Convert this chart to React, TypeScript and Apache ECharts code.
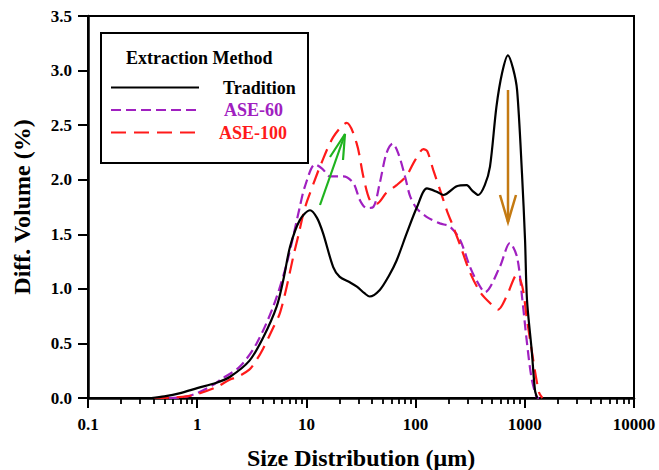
import React, { useEffect, useRef } from "react";
import * as echarts from "echarts";

const traditionX = [0.38, 0.5, 0.7, 1, 1.5, 2, 3, 4, 5.35, 6.2, 7.1, 8.7, 10.8, 12.5, 14.2, 17.6, 20.2, 25, 29, 34, 38, 47, 57, 67, 83, 103, 127, 156, 180, 238, 294, 330, 375, 430, 480, 550, 620, 700, 780, 850, 942, 1005, 1047, 1156, 1240, 1300];
const traditionY = [0, 0.015, 0.045, 0.09, 0.14, 0.195, 0.34, 0.55, 0.84, 1.1, 1.39, 1.63, 1.72, 1.65, 1.51, 1.2, 1.11, 1.06, 1.02, 0.96, 0.93, 0.99, 1.12, 1.26, 1.51, 1.75, 1.92, 1.89, 1.86, 1.94, 1.95, 1.9, 1.86, 1.95, 2.12, 2.67, 2.98, 3.14, 3.02, 2.82, 2.06, 1.45, 0.9, 0.44, 0.07, 0];

const ase60X = [0.55, 0.7, 0.85, 1, 1.4, 1.62, 2.47, 3.5, 4.98, 6.6, 8.7, 9.7, 12, 14, 16.5, 21.8, 26.9, 31, 35.6, 41, 47, 54, 61.6, 69.5, 80, 89, 102, 126, 167, 206, 255, 315, 360, 432, 590, 730, 850, 950, 1040, 1150, 1280, 1350];
const ase60Y = [0, 0.005, 0.02, 0.045, 0.12, 0.165, 0.29, 0.5, 0.84, 1.23, 1.75, 1.94, 2.14, 2.1, 2.03, 2.03, 1.97, 1.81, 1.74, 1.75, 1.97, 2.24, 2.33, 2.24, 2.03, 1.85, 1.74, 1.66, 1.6, 1.57, 1.45, 1.2, 1.08, 0.97, 1.2, 1.42, 1.29, 0.9, 0.53, 0.19, 0.01, 0];

const ase100X = [0.4, 0.6, 0.8, 1, 1.5, 2, 2.3, 3, 3.5, 4, 5, 5.73, 6.6, 7.6, 8.4, 9.38, 10.2, 12.5, 13.3, 17.6, 23.4, 28.9, 33.2, 38.2, 44, 54, 67, 83, 99, 118, 128, 145, 167, 193, 221, 260, 315, 390, 480, 570, 680, 850, 950, 1040, 1180, 1350, 1450];
const ase100Y = [0, 0.005, 0.015, 0.035, 0.1, 0.17, 0.19, 0.26, 0.35, 0.45, 0.65, 0.78, 1.02, 1.3, 1.48, 1.69, 1.81, 2.05, 2.12, 2.39, 2.52, 2.33, 2.03, 1.81, 1.78, 1.88, 1.95, 2.04, 2.18, 2.28, 2.26, 2.09, 1.91, 1.72, 1.57, 1.38, 1.15, 0.97, 0.87, 0.81, 0.93, 1.13, 1.02, 0.74, 0.38, 0.05, 0];

const seriesNames = ["Tradition", "ASE-60", "ASE-100"];
const xMajorTicks = [0.1, 1, 10, 100, 1000, 10000];
const xTickLabels = ["0.1", "1", "10", "100", "1000", "10000"];
const xMinorMultipliers = [2, 3, 4, 5, 6, 7, 8, 9];
const yTicks = [0, 0.5, 1, 1.5, 2, 2.5, 3, 3.5];

const FONT = '"Liberation Serif", "Times New Roman", serif';

function pairs(xs: number[], ys: number[]) {
  return xs.map((x, i) => [x, ys[i]]);
}

export default function App() {
  const ref = useRef<HTMLDivElement>(null);
  useEffect(() => {
    const chart = echarts.init(ref.current!, null, { renderer: "svg" });
    const minorTicks: number[] = [];
    for (let d = 0; d < xMajorTicks.length - 1; d++) {
      for (const m of xMinorMultipliers) minorTicks.push(+(xMajorTicks[d] * m).toPrecision(3));
    }
    const colors = ["#000000", "#a020c0", "#ff1a1a"];
    const option: any = {
      animation: false,
      textStyle: { fontFamily: FONT },
      grid: {
        left: 88,
        right: 25,
        top: 16,
        bottom: 72,
        outerBoundsMode: "none",
        containLabel: false,
        show: true,
        borderColor: "#000",
        borderWidth: 2,
        backgroundColor: "transparent",
      },
      xAxis: [
        {
          type: "log",
          logBase: 10,
          min: 0.1,
          max: 10000,
          position: "bottom",
          name: "Size Distribution (\u03bcm)",
          nameLocation: "middle",
          nameGap: 48,
          nameTextStyle: { fontFamily: FONT, fontWeight: "bold", fontSize: 24, color: "#000" },
          axisLine: { show: true, lineStyle: { color: "#000", width: 2.5 } },
          axisTick: { show: true, length: 10, inside: false, customValues: xMajorTicks, lineStyle: { color: "#000", width: 2 } },
          axisLabel: {
            show: true,
            customValues: xMajorTicks,
            margin: 18,
            fontFamily: FONT,
            fontWeight: "bold",
            fontSize: 17,
            color: "#000",
            formatter: (v: number) => {
              const i = xMajorTicks.findIndex((t) => Math.abs(Math.log10(t) - Math.log10(v)) < 1e-6);
              return i >= 0 ? xTickLabels[i] : "";
            },
          },
          splitLine: { show: false },
          minorTick: { show: false },
        },
        {
          type: "log",
          logBase: 10,
          min: 0.1,
          max: 10000,
          position: "bottom",
          axisLine: { show: false },
          axisTick: { show: true, length: 6, inside: false, customValues: minorTicks, lineStyle: { color: "#000", width: 1.8 } },
          axisLabel: { show: false },
          splitLine: { show: false },
        },
      ],
      yAxis: {
        type: "value",
        min: 0,
        max: 3.5,
        interval: 0.5,
        name: "Diff. Volume (%)",
        nameLocation: "middle",
        nameGap: 54,
        nameTextStyle: { fontFamily: FONT, fontWeight: "bold", fontSize: 24, color: "#000" },
        axisLine: { show: true, lineStyle: { color: "#000", width: 2.5 } },
        axisTick: { show: true, length: 10, inside: false, lineStyle: { color: "#000", width: 2 } },
        axisLabel: {
          margin: 16,
          fontFamily: FONT,
          fontWeight: "bold",
          fontSize: 17,
          color: "#000",
          formatter: (v: number) => (yTicks.includes(v) ? v.toFixed(1) : ""),
        },
        splitLine: { show: false },
      },
      legend: {
        orient: "vertical",
        left: 110,
        top: 78.5,
        padding: 0,
        itemWidth: 88,
        itemHeight: 14,
        itemGap: 4.5,
        selectedMode: false,
        itemStyle: { opacity: 0, borderWidth: 0 },
        textStyle: { fontFamily: FONT, fontWeight: "bold", fontSize: 18, lineHeight: 18 },
        data: [
          { name: seriesNames[0], textStyle: { color: "#000", padding: [0, 0, 0, 19] } },
          { name: seriesNames[1], textStyle: { color: "#a020c0", padding: [0, 0, 0, 20] } },
          { name: seriesNames[2], textStyle: { color: "#ff1a1a", padding: [0, 0, 0, 15] } },
        ],
      },
      series: [
        {
          name: seriesNames[1],
          type: "line",
          xAxisIndex: 0,
          data: pairs(ase60X, ase60Y),
          smooth: 0.3,
          symbol: "none",
          showSymbol: false,
          lineStyle: { color: colors[1], width: 2.2, type: [10, 5] },
          itemStyle: { color: colors[1] },
          z: 3,
        },
        {
          name: seriesNames[2],
          type: "line",
          xAxisIndex: 0,
          data: pairs(ase100X, ase100Y),
          smooth: 0.3,
          symbol: "none",
          showSymbol: false,
          lineStyle: { color: colors[2], width: 2.2, type: [15, 8] },
          itemStyle: { color: colors[2] },
          z: 4,
        },
        {
          name: seriesNames[0],
          type: "line",
          xAxisIndex: 0,
          data: pairs(traditionX, traditionY),
          smooth: 0.3,
          symbol: "none",
          showSymbol: false,
          lineStyle: { color: colors[0], width: 2.2 },
          itemStyle: { color: colors[0] },
          z: 5,
        },
      ],
      graphic: [
        {
          type: "rect",
          shape: { x: 101, y: 33, width: 207, height: 130 },
          style: { fill: "#fff", stroke: "#000", lineWidth: 2 },
          z: 1,
        },
        {
          type: "text",
          x: 126,
          y: 58,
          style: {
            text: "Extraction Method",
            fontFamily: FONT,
            fontWeight: "bold",
            fontSize: 18,
            fill: "#000",
            verticalAlign: "middle",
            align: "left",
          },
          z: 2,
        },
        {
          type: "polyline",
          shape: { points: [[320, 205], [345, 134]] },
          style: { stroke: "#1fb31f", lineWidth: 2.2, fill: null },
          z: 10,
        },
        {
          type: "polyline",
          shape: { points: [[330, 157], [345, 134], [343, 160]] },
          style: { stroke: "#1fb31f", lineWidth: 2.2, fill: null },
          z: 10,
        },
        {
          type: "polyline",
          shape: { points: [[508, 90], [508, 222]] },
          style: { stroke: "#c47a12", lineWidth: 2.5, fill: null },
          z: 10,
        },
        {
          type: "polyline",
          shape: { points: [[500, 195], [508, 222], [516, 195]] },
          style: { stroke: "#c47a12", lineWidth: 2.5, fill: null },
          z: 10,
        },
      ],
    };
    chart.setOption(option);
    return () => chart.dispose();
  }, []);
  return <div ref={ref} style={{ position: "absolute", left: 0, top: 0, width: 659, height: 470 }} />;
}
